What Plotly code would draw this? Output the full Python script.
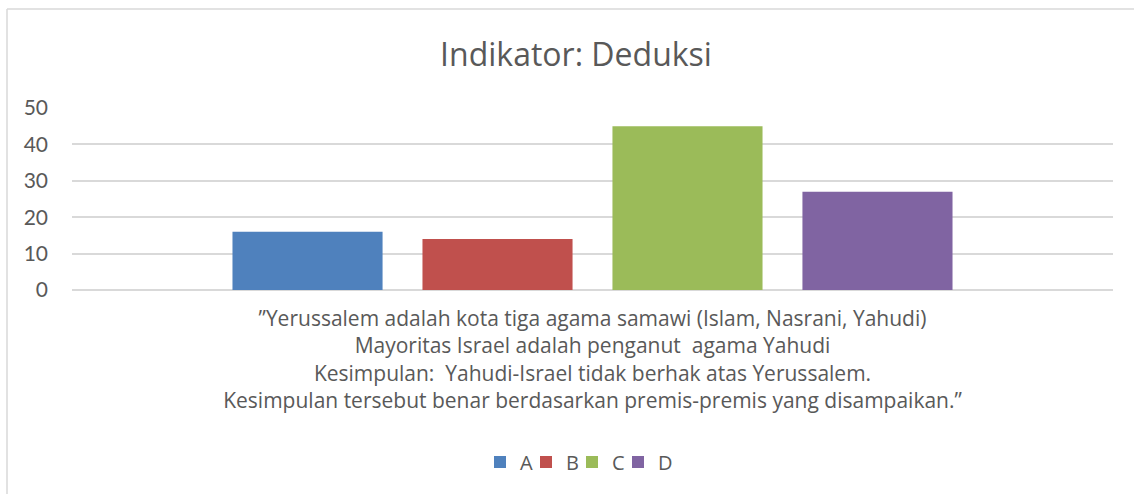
import plotly.graph_objects as go

title_text = "Indikator: Deduksi"
category_lines = [
    "\u201dYerussalem adalah kota tiga agama samawi (Islam, Nasrani, Yahudi)",
    "Mayoritas Israel adalah penganut  agama Yahudi",
    "Kesimpulan:  Yahudi-Israel tidak berhak atas Yerussalem.",
    "Kesimpulan tersebut benar berdasarkan premis-premis yang disampaikan.\u201d",
]
series_names = ["A", "B", "C", "D"]
series_values = [16, 14, 45, 27]
series_colors = ["#4F81BD", "#C0504D", "#9BBB59", "#8064A2"]
y_ticks = [0, 10, 20, 30, 40, 50]

category = "<br>".join(category_lines)

fig = go.Figure()
for name, val, col in zip(series_names, series_values, series_colors):
    fig.add_trace(go.Bar(name=name, x=[category], y=[val], marker_color=col,
                         marker_line_width=0))
# spacer legend entry (invisible) so the last legend label is not clipped
fig.add_trace(go.Scatter(x=[None], y=[None], mode="markers", name=" ",
                         marker=dict(color="rgba(0,0,0,0)", size=1,
                                     line=dict(width=0)),
                         hoverinfo="skip"))

W, H = 1134, 494
L, R, T, B = 72, 21, 108, 204
pw, ph = W - L - R, H - T - B

def px_x(p):
    return (p - L) / pw

def px_y(p):
    return (H - B - p) / ph

font_body = "'Open Sans', sans-serif"
grey = "#595959"
line_grey = "#D9D9D9"

fig.update_layout(
    width=W, height=H,
    margin=dict(l=L, r=R, t=T, b=B, autoexpand=False),
    paper_bgcolor="white", plot_bgcolor="white",
    barmode="group", bargap=0.27, bargroupgap=0.21,
    title=dict(text=title_text, x=576 / W, xanchor="center", xref="container",
               y=1 - 55 / H, yanchor="middle", yref="container",
               font=dict(family="'Open Sans', sans-serif", size=32, color=grey)),
    font=dict(family=font_body, color=grey, size=20),
    showlegend=True,
    legend=dict(orientation="h", x=px_x(480), xanchor="left",
                y=px_y(462), yanchor="middle",
                font=dict(family=font_body, size=20, color=grey),
                itemwidth=30, tracegroupgap=0,
                entrywidth=1, entrywidthmode="pixels"),
    xaxis=dict(showgrid=False, showline=False, zeroline=False, ticks="",
               tickfont=dict(family=font_body, size=21, color=grey),
               ticklabelstandoff=14),
    yaxis=dict(range=[0, 50], tickvals=y_ticks, showgrid=True,
               gridcolor=line_grey, gridwidth=1.5, zeroline=True,
               zerolinecolor=line_grey, zerolinewidth=1.5, showline=False,
               ticks="", tickfont=dict(family="Lato, sans-serif", size=21, color=grey),
               ticklabelstandoff=23),
    shapes=[
        dict(type="line", xref="paper", yref="paper", x0=px_x(7), x1=px_x(1200),
             y0=px_y(9), y1=px_y(9), line=dict(color=line_grey, width=1.5)),
        dict(type="line", xref="paper", yref="paper", x0=px_x(7), x1=px_x(7),
             y0=px_y(9), y1=px_y(600), line=dict(color=line_grey, width=1.5)),
    ],
)

fig.write_html("out.html")
